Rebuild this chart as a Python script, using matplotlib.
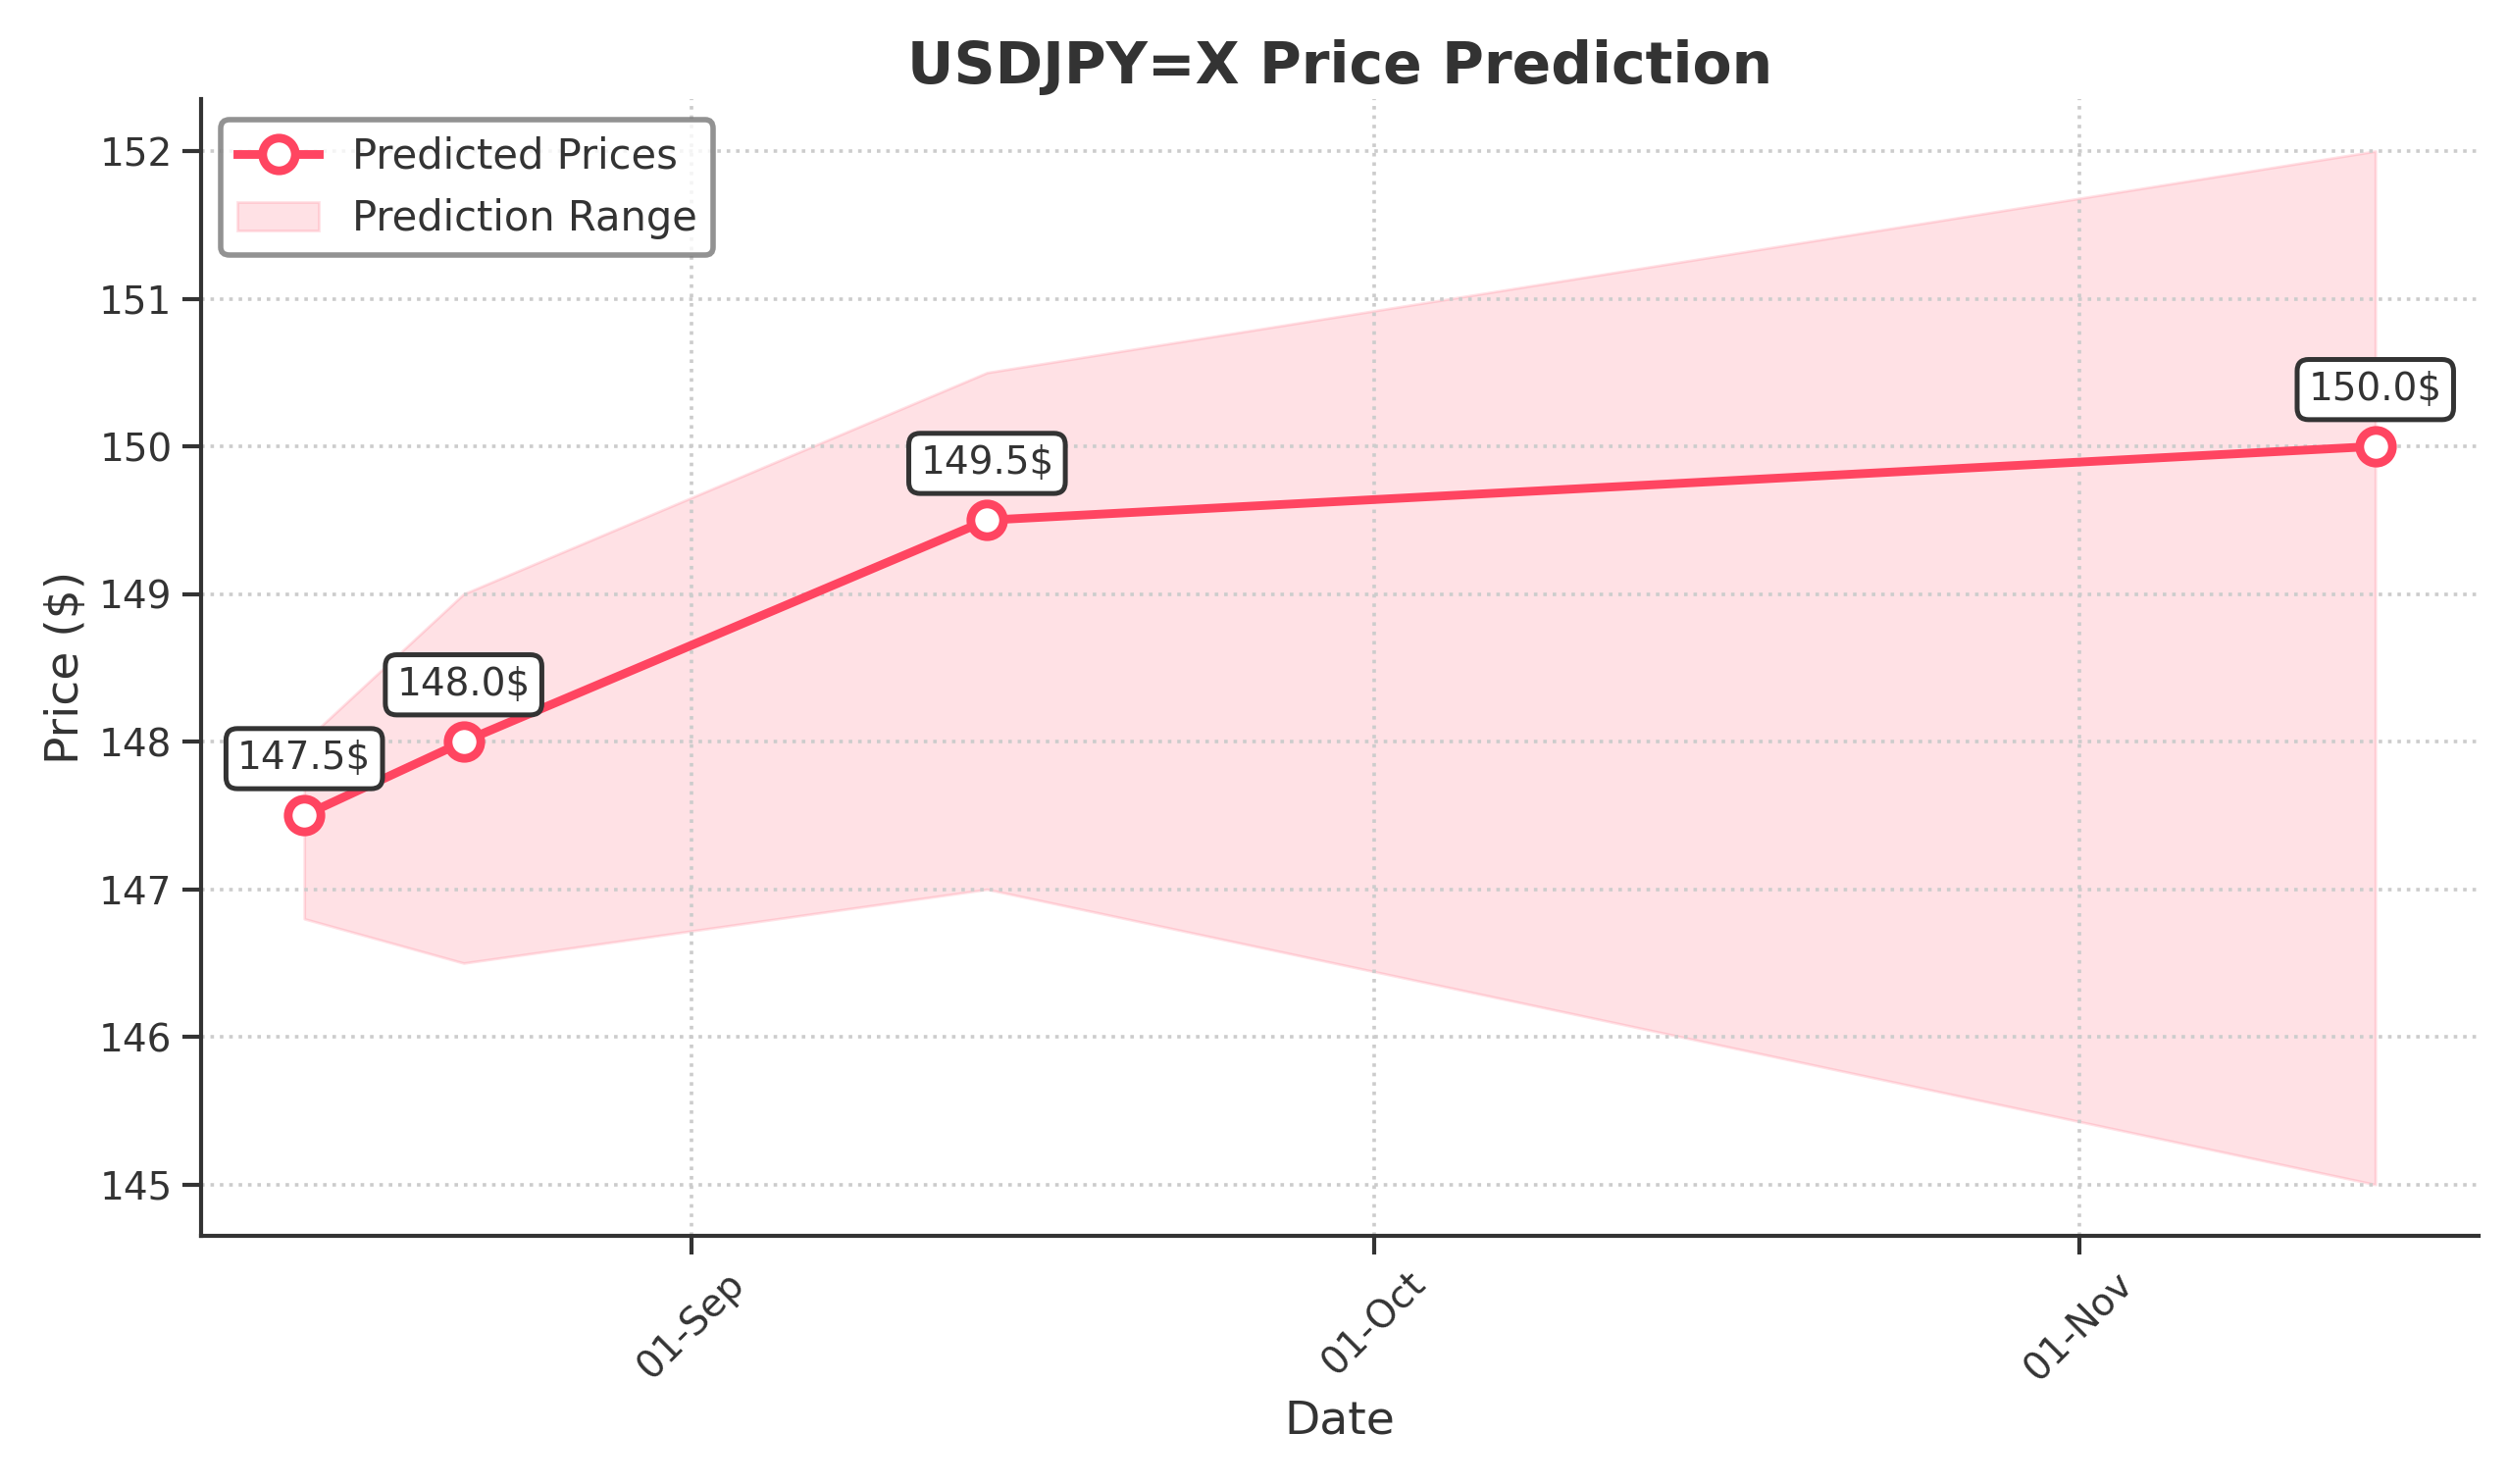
import matplotlib
matplotlib.use("Agg")
import matplotlib.pyplot as plt
import matplotlib.dates as mdates
import pandas as pd

# prediction data
dates = pd.to_datetime(["2023-08-15", "2023-08-22", "2023-09-14", "2023-11-14"])
predicted = [147.5, 148.0, 149.5, 150.0]
lower = [146.8, 146.5, 147.0, 145.0]
upper = [148.0, 149.0, 150.5, 152.0]

line_color = "#ff4561"
text_color = "#333333"

plt.rcParams["font.family"] = ["DejaVu Sans"]
plt.rcParams["text.color"] = text_color
plt.rcParams["axes.labelcolor"] = text_color
plt.rcParams["xtick.color"] = text_color
plt.rcParams["ytick.color"] = text_color

fig, ax = plt.subplots(figsize=(12.79, 7.565), dpi=200)

band = ax.fill_between(dates, lower, upper, color=line_color, alpha=0.16,
                       label="Prediction Range", zorder=1)
line, = ax.plot(dates, predicted, color=line_color, linewidth=3.2, marker="o",
                markersize=12, markerfacecolor="white", markeredgewidth=3.2,
                markeredgecolor=line_color, label="Predicted Prices", zorder=3)

for d, p in zip(dates, predicted):
    ax.annotate(f"{p:.1f}$", (d, p), xytext=(0, 14), textcoords="offset points",
                ha="center", va="bottom", fontsize=14, color=text_color,
                bbox=dict(boxstyle="round,pad=0.3", fc="white", ec=text_color, lw=1.8),
                zorder=4)

ax.set_title("USDJPY=X Price Prediction", fontsize=21, fontweight="bold", color=text_color)
ax.set_xlabel("Date", fontsize=17)
ax.set_ylabel("Price ($)", fontsize=17)

ax.xaxis.set_major_locator(mdates.MonthLocator())
ax.xaxis.set_major_formatter(mdates.DateFormatter("%d-%b"))
plt.setp(ax.get_xticklabels(), rotation=45)
ax.tick_params(labelsize=14, width=1.5, length=7)

ax.grid(True, linestyle=":", color="#cccccc", linewidth=1.3)
ax.spines["top"].set_visible(False)
ax.spines["right"].set_visible(False)
for s in ("left", "bottom"):
    ax.spines[s].set_color(text_color)
    ax.spines[s].set_linewidth(1.5)

leg = ax.legend([line, band], ["Predicted Prices", "Prediction Range"],
                loc="upper left", fontsize=15, frameon=True, fancybox=True)
leg.get_frame().set_edgecolor("#777777")
leg.get_frame().set_linewidth(2)

fig.subplots_adjust(left=0.080, right=0.988, bottom=0.167, top=0.933)
plt.savefig("out.png", dpi=200)
